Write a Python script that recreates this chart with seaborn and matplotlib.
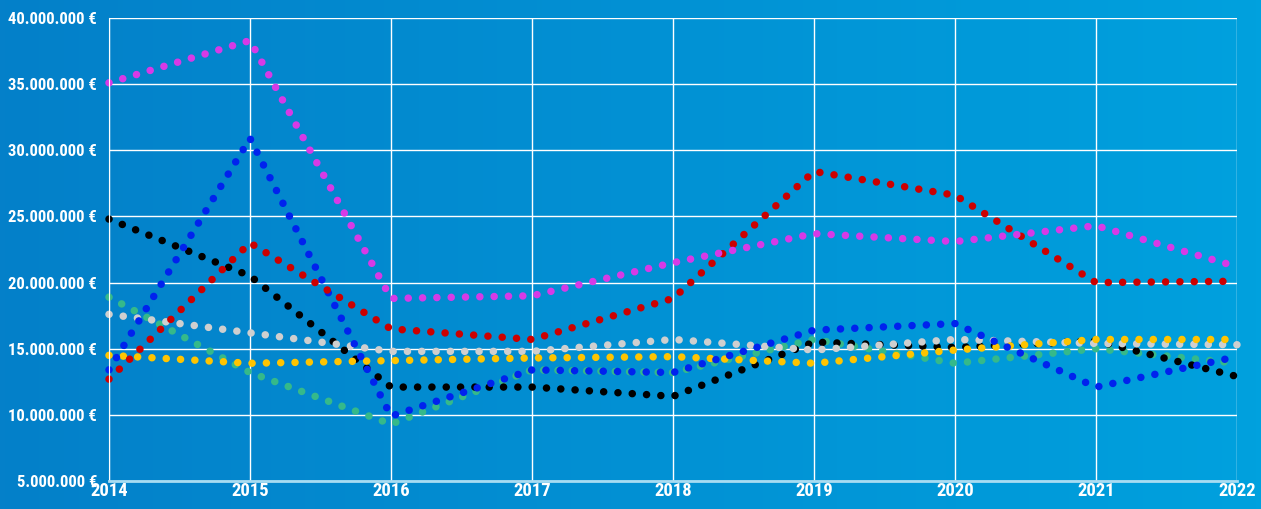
import numpy as np
import pandas as pd
import matplotlib.pyplot as plt
import seaborn as sns
from matplotlib import font_manager
from matplotlib.colors import LinearSegmentedColormap
from matplotlib.ticker import FuncFormatter

years = [2014, 2015, 2016, 2017, 2018, 2019, 2020, 2021, 2022]

# values in million euro
green = [18.9, 13.2, 9.3, 13.4, 13.2, 15.7, 13.9, 15.0, 13.9]
black = [24.8, 20.5, 12.1, 12.1, 11.4, 15.5, 15.1, 15.6, 12.9]
grey = [17.6, 16.2, 14.8, 14.8, 15.7, 14.9, 15.7, 15.4, 15.3]
yellow = [14.5, 13.9, 14.1, 14.3, 14.4, 13.9, 14.9, 15.7, 15.7]
blue = [13.4, 30.9, 9.9, 13.4, 13.2, 16.4, 16.9, 12.1, 14.4]
red = [12.7, 23.0, 16.5, 15.7, 18.8, 28.4, 26.6, 20.0, 20.1]
magenta = [35.1, 38.3, 18.8, 19.0, 21.5, 23.7, 23.1, 24.3, 21.2]

series = {'green': green, 'black': black, 'grey': grey, 'yellow': yellow,
          'blue': blue, 'red': red, 'magenta': magenta}
colors = {'green': '#35b98a', 'black': '#000000', 'grey': '#cfcfcf',
          'yellow': '#ffc400', 'blue': '#0022ee', 'red': '#cc0000',
          'magenta': '#d63ae6'}

rows = []
for name, vals in series.items():
    for y, v in zip(years, vals):
        rows.append({'year': y, 'value': v * 1e6, 'series': name})
df = pd.DataFrame(rows)

# narrowest font available first
fams = {f.name for f in font_manager.fontManager.ttflist}
choices = [('Roboto Condensed', 12), ('Liberation Sans Narrow', 12),
           ('Roboto', 10.8), ('Open Sans', 10.5)]
font, fsize = 'DejaVu Sans', 9.5
for name, size in choices:
    if name in fams:
        font, fsize = name, size
        break
plt.rcParams['font.family'] = [font, 'DejaVu Sans']
plt.rcParams['font.weight'] = 'bold'

fig = plt.figure(figsize=(12.61, 5.09), dpi=100)
bg = fig.add_axes([0, 0, 1, 1], zorder=-10)
cmap = LinearSegmentedColormap.from_list('bg', ['#0480c9', '#00a1de'])
bg.imshow(np.linspace(0, 1, 256).reshape(1, -1), aspect='auto', cmap=cmap,
          extent=[0, 1, 0, 1])
bg.axis('off')

ax = fig.add_axes([109 / 1261, 28 / 509, 1128 / 1261, 463 / 509])
ax.set_facecolor('none')

sns.lineplot(data=df, x='year', y='value', hue='series', palette=colors,
             hue_order=list(series.keys()), legend=False, linewidth=5.4,
             sort=False, ax=ax)
for line in ax.get_lines():
    line.set_linestyle((0, (0.01, 1.9)))
    line.set_dash_capstyle('round')
    line.set_clip_on(False)

ax.set_xlim(2014, 2022)
ax.set_ylim(5e6, 40e6)
ax.set_xticks(years)
ax.set_yticks(np.arange(5e6, 40.1e6, 5e6))
ax.yaxis.set_major_formatter(FuncFormatter(lambda v, p: f"{v:,.0f} €".replace(',', '.')))
ax.grid(True, color='white', linewidth=1)
ax.set_axisbelow(True)
ax.set_xlabel('')
ax.set_ylabel('')
ax.tick_params(length=0, colors='white')
ax.tick_params(axis='y', pad=8.5, labelsize=fsize)
ax.tick_params(axis='x', pad=1, labelsize=fsize * 1.12)
for s in ['top', 'right']:
    ax.spines[s].set_visible(False)
ax.spines['left'].set_color('white')
ax.spines['bottom'].set_color('#a8dcf2')
ax.spines['bottom'].set_linewidth(2)

fig.savefig('out.png', dpi=100)
